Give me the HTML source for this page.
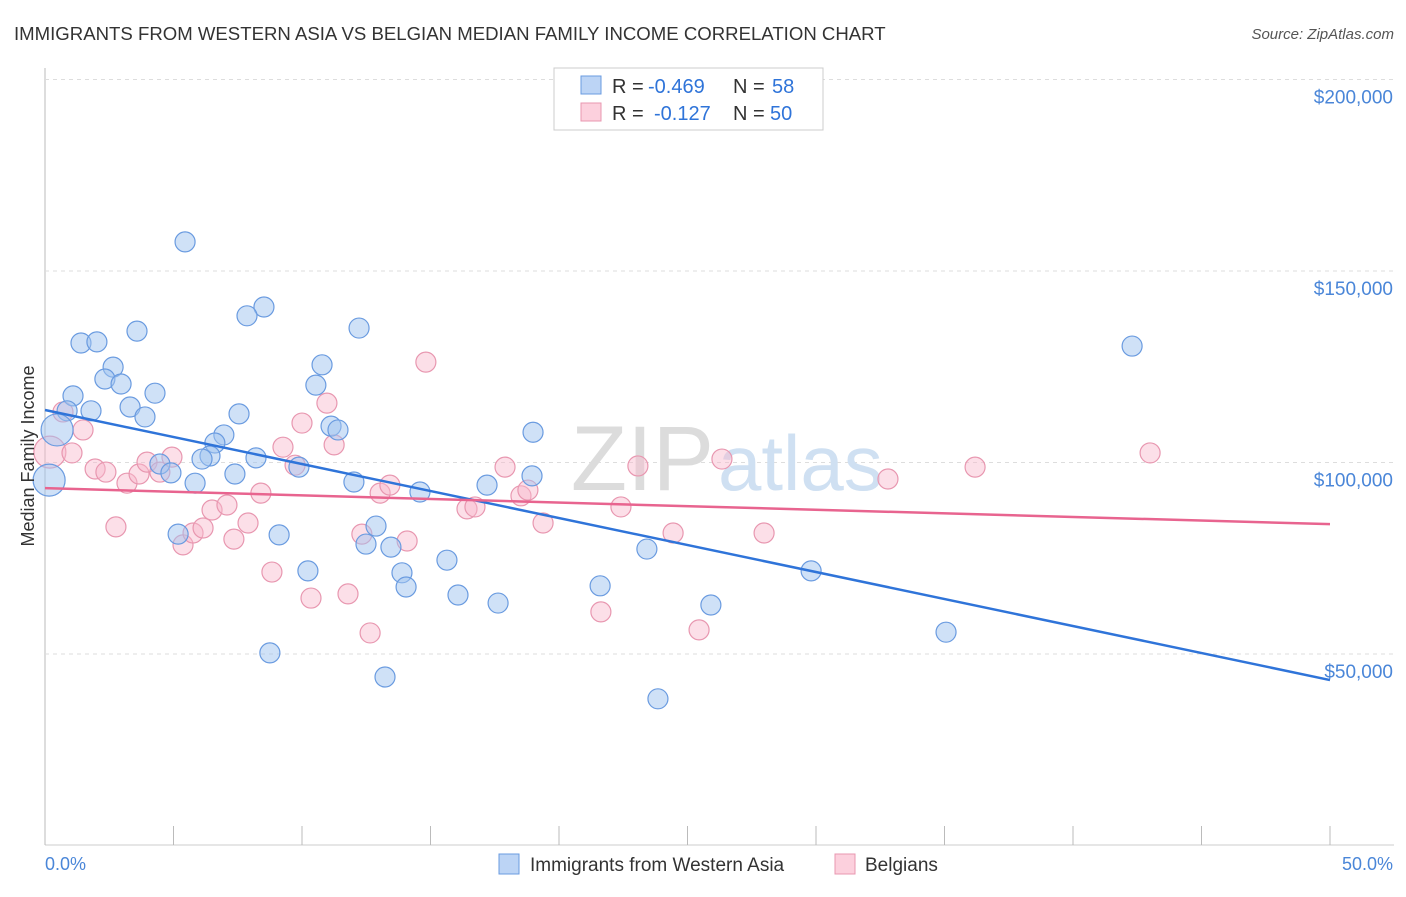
<!DOCTYPE html>
<html><head><meta charset="utf-8"><style>
body{margin:0;background:#fff;font-family:"Liberation Sans",sans-serif;}
svg text{font-family:"Liberation Sans",sans-serif;}
</style></head><body>
<svg width="1406" height="892" viewBox="0 0 1406 892">
<text x="14" y="40" font-size="18.6" fill="#333">IMMIGRANTS FROM WESTERN ASIA VS BELGIAN MEDIAN FAMILY INCOME CORRELATION CHART</text>
<text x="1394" y="39" font-size="15" fill="#555" font-style="italic" text-anchor="end">Source: ZipAtlas.com</text>
<g id="grid"></g>
<text x="714" y="490" font-size="92" fill="#dcdcdc" text-anchor="end" font-family="Liberation Serif">ZIP</text>
<text x="718" y="490" font-size="78" fill="#cfe0f2">atlas</text>
<g id="marks"></g>
<text transform="translate(34,456) rotate(-90)" font-size="18" fill="#333" text-anchor="middle">Median Family Income</text>
<text x="45" y="870" font-size="18" fill="#4a86d8">0.0%</text>
<text x="1393" y="870" font-size="18" fill="#4a86d8" text-anchor="end">50.0%</text>
<g>
<rect x="554" y="68" width="269" height="62" fill="#fff" stroke="#ccc"/>
<rect x="581" y="76" width="20" height="18" fill="#bcd4f5" stroke="#6a9be0"/>
<rect x="581" y="103" width="20" height="18" fill="#fcd0dd" stroke="#e897b0"/>
<text x="612" y="93" font-size="20" fill="#333">R =</text>
<text x="648" y="93" font-size="20" fill="#2f74d9">-0.469</text>
<text x="733" y="93" font-size="20" fill="#333">N =</text>
<text x="772" y="93" font-size="20" fill="#2f74d9">58</text>
<text x="612" y="120" font-size="20" fill="#333">R =</text>
<text x="654" y="120" font-size="20" fill="#2f74d9">-0.127</text>
<text x="733" y="120" font-size="20" fill="#333">N =</text>
<text x="770" y="120" font-size="20" fill="#2f74d9">50</text>
</g>
<g>
<rect x="499" y="854" width="20" height="20" fill="#bcd4f5" stroke="#6a9be0"/>
<text x="530" y="871" font-size="19" fill="#333">Immigrants from Western Asia</text>
<rect x="835" y="854" width="20" height="20" fill="#fcd0dd" stroke="#e897b0"/>
<text x="865" y="871" font-size="19" fill="#333">Belgians</text>
</g>
</svg>
<script>
const yTicks=[50000,100000,150000,200000];
const yTickLabels=["$50,000","$100,000","$150,000","$200,000"];
const xTicks=[0,5,10,15,20,25,30,35,40,45,50];
const blueX=[5.45,8.52,7.86,3.58,12.22,1.40,2.02,10.78,2.65,2.33,2.96,10.54,1.09,4.28,0.86,1.79,3.31,3.89,7.55,0.47,11.13,11.40,18.99,6.96,6.61,6.42,6.11,4.47,4.90,8.21,9.88,7.39,0.16,5.84,12.02,14.59,17.2,18.95,12.88,5.18,9.11,12.49,13.46,15.64,23.42,10.23,13.89,14.05,21.60,29.81,16.07,17.63,25.91,35.06,8.75,13.23,23.85,42.30];
const blueY=[157.6,140.6,138.3,134.3,135.1,131.2,131.5,125.5,124.9,121.8,120.5,120.2,117.4,118.1,113.5,113.5,114.5,111.9,112.7,108.5,109.5,108.5,107.9,107.2,105.1,101.7,100.9,99.6,97.3,101.2,98.8,97.0,95.4,94.6,94.9,92.3,94.1,96.5,83.4,81.3,81.1,78.7,77.9,74.5,77.4,71.7,71.2,67.5,67.8,71.7,65.4,63.3,62.8,55.7,50.3,44.0,38.3,130.4];
const pinkX=[0.70,1.48,0.19,1.05,1.95,2.37,3.19,3.66,3.97,4.47,4.94,2.76,5.37,5.76,6.15,6.50,7.08,7.35,7.90,8.40,8.83,9.26,9.73,10.0,10.97,11.25,10.35,11.79,12.33,12.65,13.04,13.42,14.09,14.82,16.42,16.73,17.90,18.52,18.79,19.38,21.63,22.41,23.07,24.44,25.45,26.34,27.98,32.80,36.19,43.00];
const pinkY=[113.2,108.5,102.7,102.5,98.3,97.5,94.6,97.0,100.1,97.5,101.4,83.2,78.5,81.6,82.9,87.6,88.9,80.0,84.2,92.0,71.4,104.0,99.3,110.3,115.5,104.6,64.6,65.7,81.3,55.5,92.0,94.1,79.5,126.2,87.9,88.4,98.8,91.3,92.8,84.2,61.0,88.4,99.1,81.6,56.3,100.9,81.6,95.7,98.8,102.5];
const blueTrend=[113.7,43.2];
const pinkTrend=[93.3,83.9];
const X=p=>45+p*25.7;
const Y=v=>654-(v-50000)*191.5/50000;
const NS='http://www.w3.org/2000/svg';
const g=document.getElementById('grid'),m=document.getElementById('marks');
function mk(tag,at,par){const e=document.createElementNS(NS,tag);for(const k in at)e.setAttribute(k,at[k]);par.appendChild(e);return e;}
let ax=mk('line',{x1:45,y1:68,x2:45,y2:845,stroke:'#bbb'},g);


let bx=mk('line',{x1:45,y1:845,x2:1394,y2:845,stroke:'#ccc'},g);


yTicks.forEach((t,i)=>{
 let l=mk('line',{x1:45,y1:Y(t),x2:1394,y2:Y(t),stroke:'#ddd','stroke-dasharray':'4,4'},g);
 
 
 let tx=mk('text',{x:1393,y:Y(t)+24,'font-size':19,fill:'#4a86d8','text-anchor':'end'},g);
 tx.textContent=yTickLabels[i];
 
 
});
xTicks.forEach(t=>{
 let l=mk('line',{x1:X(t),y1:826,x2:X(t),y2:845,stroke:'#bbb'},g);
 
 
});
function pts(xs,ys,fill,stroke,name,big){
 xs.forEach((x,i)=>{
  const r=(big.includes(i))?16:10;
  let c=mk('circle',{cx:X(x),cy:Y(ys[i]*1000),r:r,fill:fill,stroke:stroke,'stroke-width':1.2},m);
  
  
 });
}
pts(pinkX,pinkY,'rgba(248,185,205,0.45)','#e897b0','belgians-point',[2]);
pts(blueX,blueY,'rgba(160,195,240,0.5)','#6a9be0','western-asia-point',[19,32]);
let bl=mk('line',{x1:X(0),y1:Y(blueTrend[0]*1000),x2:X(50),y2:Y(blueTrend[1]*1000),stroke:'#2f74d9','stroke-width':2.5},m);


let pl=mk('line',{x1:X(0),y1:Y(pinkTrend[0]*1000),x2:X(50),y2:Y(pinkTrend[1]*1000),stroke:'#e8648f','stroke-width':2.5},m);


</script>
</body></html>
